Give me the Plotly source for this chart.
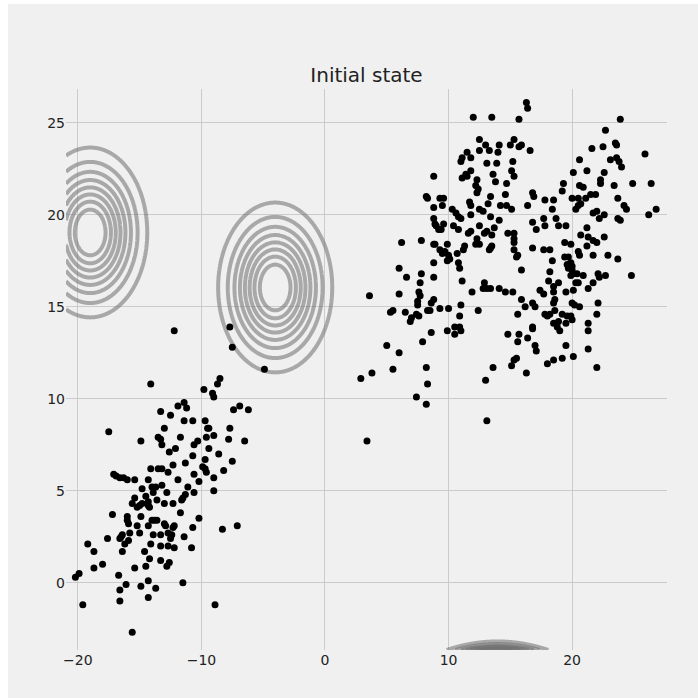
import numpy as np
import plotly.graph_objects as go

# ---------------- data ----------------
cluster_a_x = [-12.2, -7.7, -7.5, -4.9, -8.5, -8.7, -9.8, -14.1,
               -9.1, -9.0, -11.4, -11.9, -11.2, -13.3, -12.5, -7.4, -6.9, -6.2,
               -11.4, -10.7, -9.7, -9.5, -9.4, -7.7, -13.0, -17.5,
               -13.5, -13.3, -11.7, -9.6, -9.0, -7.8, -6.5, -14.9,
               -13.2, -12.1, -10.6, -10.3, -12.6, -9.4, -8.6,
               -10.7, -9.7, -7.5, -14.1, -13.5, -13.2, -12.3, -11.3, -9.9, -9.7, -9.6, -8.2, -12.7, -10.6, -9.0,
               -17.1, -16.9, -16.6, -16.3, -16.0, -15.4, -14.3, -11.9, -10.2,
               -14.8, -14.0, -13.7, -13.2, -12.8, -11.1, -11.3, -11.5, -11.6, -10.6, -9.0,
               -15.4, -15.6, -15.2, -15.0, -14.8, -14.5, -14.3, -14.3, -14.2, -13.9, -13.6, -13.0, -12.3, -11.7, -10.2,
               -17.2, -16.0, -16.0, -15.9, -14.9, -14.0, -13.8, -13.6, -13.0, -12.9, -14.3, -15.2, -12.2, -12.3, -10.7, -8.3, -7.1,
               -16.4, -16.5, -16.6, -15.8, -17.6, -15.0, -15.9, -16.2, -16.4,
               -13.9, -13.3, -12.7, -12.4, -12.5, -11.4, -14.1, -13.3, -12.7, -12.2, -14.6, -10.8,
               -19.2, -18.7, -18.0, -18.7, -15.4, -14.5, -14.2, -13.3, -12.6, -12.8,
               -20.2, -19.9, -16.7, -16.1, -16.6, -14.9, -14.3, -13.7, -11.5,
               -19.6, -16.6, -14.3, -8.9, -15.6]
cluster_a_y = [13.7, 13.9, 12.8, 11.6, 11.1, 10.8, 10.5, 10.8,
               10.3, 10.1, 9.8, 9.6, 9.5, 9.3, 9.1, 9.4, 9.6, 9.4,
               8.8, 8.8, 8.8, 8.4, 8.4, 8.4, 8.4, 8.2,
               7.9, 7.8, 7.9, 7.9, 8.0, 7.8, 7.7, 7.7,
               7.5, 7.3, 7.5, 7.7, 7.1, 7.3, 7.0,
               6.9, 6.7, 6.6, 6.2, 6.2, 6.2, 6.4, 6.5, 6.3, 6.2, 6.0, 6.1, 6.0, 5.9, 5.7,
               5.9, 5.8, 5.7, 5.7, 5.6, 5.6, 5.6, 5.6, 5.5,
               5.1, 5.2, 5.2, 5.3, 4.9, 5.2, 4.8, 4.6, 4.5, 4.9, 5.0,
               4.6, 4.3, 4.1, 4.2, 4.3, 4.7, 4.4, 4.2, 4.1, 4.9, 4.5, 4.3, 4.3, 3.8, 3.5,
               3.7, 3.6, 3.4, 3.2, 3.6, 3.4, 3.4, 3.4, 3.2, 3.1, 3.1, 3.1, 3.1, 3.0, 3.0, 2.9, 3.1,
               2.6, 2.5, 2.4, 2.7, 2.4, 2.7, 2.3, 2.1, 1.7,
               2.6, 2.6, 2.7, 2.6, 2.4, 2.5, 2.1, 2.0, 2.0, 1.9, 1.7, 1.9,
               2.1, 1.7, 1.0, 0.8, 0.8, 0.9, 1.3, 1.2, 1.1, 0.9,
               0.3, 0.5, 0.4, -0.1, -0.4, -0.2, 0.1, -0.3, 0.0,
               -1.2, -1.0, -0.8, -1.2, -2.7]

cluster_b_x = [16.3, 16.4, 12.0, 13.5, 15.7, 23.9, 22.7, 12.5,
               13.0, 13.3, 12.5, 14.0, 14.1, 15.0, 15.3, 15.9, 15.7, 16.6,
               21.6, 22.5, 23.5, 23.6, 25.9,
               11.5, 11.8, 11.0, 11.1, 13.1, 13.9, 15.2,
               20.6, 23.1, 23.6, 23.8, 24.0,
               11.8, 11.4, 11.1, 11.5, 8.8,
               12.3, 13.6, 13.8, 14.7, 15.1, 15.3,
               20.1, 21.2, 22.6, 22.3, 22.3, 23.4, 24.9, 26.4,
               12.2, 12.4, 12.3,
               14.6, 16.8, 16.9, 19.3, 19.2, 20.6, 20.9,
               8.2, 8.3, 9.3, 9.6, 8.8, 9.5,
               13.4, 13.2, 11.7, 11.8, 14.2, 14.7, 15.1, 16.4, 17.8, 18.5, 20.0, 20.5, 20.7, 20.5, 20.3, 21.1, 21.5, 21.9,
               23.7, 24.2, 24.4, 26.2, 26.8,
               12.5, 12.8, 11.8, 13.4, 14.1, 10.3, 10.6, 10.8, 11.0, 18.4, 17.7, 17.8, 16.8, 18.7, 18.9, 19.5, 17.1,
               21.7, 22.0, 22.2, 22.6, 23.7, 23.9,
               8.8, 8.9, 9.2, 9.4, 9.0, 9.6, 10.4, 10.8,
               12.5, 11.6, 11.8, 12.9, 13.1, 13.5, 13.7, 14.8, 15.3, 15.3, 15.3, 15.3,
               21.2, 20.7, 21.3, 21.7, 22.0, 22.6,
               6.2, 7.8,
               8.8, 8.9, 9.9, 9.3, 9.5, 9.7, 10.0, 9.9, 10.1, 10.7, 10.8, 10.9, 8.8,
               12.3, 12.2, 12.5, 11.3, 11.2, 13.4, 13.5, 13.3,
               16.8, 17.7, 18.2, 19.4, 19.9, 15.6, 15.5, 15.9, 18.4, 20.5, 20.6, 21.2, 21.7, 22.9, 23.7,
               19.4, 19.7, 19.6, 19.9, 20.0, 19.7, 20.1, 19.9, 20.4, 20.9, 20.0,
               22.1, 22.2, 22.7, 24.8,
               6.0, 6.6, 7.8, 8.8, 7.7,
               11.1, 12.9, 12.8, 13.1, 13.4, 14.1, 14.6, 15.2, 11.9,
               18.2, 18.1, 18.9, 18.5, 18.5, 19.5, 20.1, 20.3, 20.5, 21.3, 21.7,
               3.6, 6.0, 7.6, 7.7, 7.5, 7.5, 8.8, 8.6, 11.0, 10.0, 9.3, 8.5, 8.3, 5.3, 5.5, 6.5, 7.4, 7.6, 7.0, 6.9,
               12.4, 15.9, 16.2, 16.8, 17.0, 17.4, 17.7,
               18.6, 18.5, 18.6, 17.8, 18.0, 18.2, 19.2, 19.6, 19.9, 20.0, 19.5, 18.9, 18.5, 18.8, 19.0, 20.0, 20.2, 20.6,
               22.1, 22.0, 21.3, 21.3,
               10.9, 10.9, 11.0, 10.5, 10.5, 9.9, 8.6, 7.9,
               15.6, 14.8, 15.7, 16.4, 15.6, 16.8, 16.8, 17.0, 17.1,
               19.5, 21.3, 20.1, 19.2, 18.5, 18.0, 22.0,
               5.0, 6.0, 5.5, 3.8, 2.9, 8.2, 8.3, 7.4,
               15.5, 15.3, 15.1, 13.6, 16.3, 13.0,
               8.2, 13.1, 3.4]
cluster_b_y = [26.1, 25.8, 25.3, 25.3, 25.2, 25.2, 24.6, 24.1,
               23.8, 23.5, 23.5, 23.4, 23.8, 23.8, 24.1, 23.8, 23.7, 23.5,
               23.6, 23.7, 23.9, 23.8, 23.3,
               23.4, 23.1, 22.9, 23.1, 22.8, 22.8, 22.9,
               23.0, 23.0, 23.1, 22.9, 22.6,
               22.4, 22.2, 22.0, 22.1, 22.1,
               21.9, 22.2, 21.8, 21.7, 22.4, 22.1,
               22.3, 22.4, 22.3, 21.9, 21.7, 21.6, 21.7, 21.7,
               21.6, 21.4, 21.2,
               21.1, 21.2, 21.0, 21.7, 21.3, 21.6, 21.5,
               21.0, 20.9, 20.9, 20.9, 20.4, 20.5,
               21.0, 20.6, 20.7, 20.5, 20.5, 20.5, 20.3, 20.5, 20.8, 20.8, 20.9, 20.9, 20.6, 20.5, 20.3, 20.9, 21.1, 21.1,
               20.9, 20.5, 20.3, 20.0, 20.3,
               20.3, 20.2, 20.0, 19.9, 19.7, 20.3, 20.1, 19.9, 19.8, 20.3, 19.8, 19.4, 19.6, 19.8, 19.4, 19.4, 19.2,
               20.1, 20.2, 19.8, 20.0, 19.8, 19.7,
               19.8, 19.5, 19.2, 19.2, 19.4, 19.5, 19.4, 19.2,
               19.4, 19.0, 19.1, 19.0, 19.1, 18.9, 19.3, 19.0, 19.0, 18.7, 18.5, 18.1,
               19.3, 18.9, 18.8, 18.6, 18.5, 18.8,
               18.5, 18.6,
               18.4, 18.4, 18.4, 18.1, 17.9, 18.0, 17.8, 17.5, 17.6, 17.9, 17.4, 17.1, 17.4,
               18.7, 18.4, 18.4, 18.3, 18.1, 18.2, 18.3, 18.1,
               18.2, 18.1, 18.1, 18.5, 18.4, 17.8, 17.7, 17.0, 17.5, 18.0, 17.8, 18.3, 17.8, 17.8, 17.6,
               17.7, 17.7, 17.3, 17.4, 17.2, 17.1, 16.8, 16.7, 16.8, 16.7, 17.0,
               16.8, 16.6, 16.7, 16.7,
               17.1, 16.6, 16.8, 16.6, 16.3,
               16.4, 16.3, 16.0, 16.0, 16.0, 16.0, 15.8, 15.8, 15.8,
               16.9, 16.4, 16.3, 16.1, 15.8, 15.8, 15.9, 16.3, 16.3, 16.0, 16.3,
               15.6, 15.7, 15.8, 15.6, 15.3, 15.1, 15.4, 15.2, 15.1, 14.9, 14.9, 14.8, 14.8, 14.7, 14.8, 14.7, 14.6, 14.5, 14.4, 14.2,
               14.8, 15.4, 15.0, 15.2, 15.0, 15.9, 15.7,
               15.4, 15.2, 14.8, 14.6, 14.5, 14.6, 14.6, 14.5, 14.5, 14.3, 14.1, 14.2, 14.1, 13.9, 13.7, 15.2, 15.1, 15.0,
               15.2, 14.6, 14.1, 13.7,
               14.5, 13.9, 13.7, 13.9, 13.5, 13.7, 13.6, 13.1,
               14.6, 13.5, 13.5, 13.3, 13.1, 13.9, 13.8, 12.9, 12.6,
               12.9, 12.7, 12.3, 12.2, 12.1, 11.9, 11.7,
               12.9, 12.5, 11.6, 11.4, 11.1, 11.7, 10.8, 10.1,
               12.2, 12.1, 11.8, 11.7, 11.4, 11.0,
               9.7, 8.8, 7.7]

# Gaussian components drawn as contour rings
gauss_mean_x = [-19.0, -4.03, 13.96]
gauss_mean_y = [19.04, 16.05, -21.56]
gauss_sigma = [2.18, 2.18, 1.94]
level_fractions = [k / 9.41 for k in range(1, 9)]

x_range = [-20.96, 27.68]
y_range = [-3.66, 26.84]
x_ticks = [-20, -10, 0, 10, 20]
x_tick_text = ["\u221220", "\u221210", "0", "10", "20"]
y_ticks = [0, 5, 10, 15, 20, 25]
y_tick_text = ["0", "5", "10", "15", "20", "25"]

# grid windows for evaluating each component
grid_windows = [
    ([x_range[0], -12.0], [11.5, 26.5], 220, 260),
    ([-11.5, 3.5], [8.5, 23.5], 240, 260),
    ([7.5, 20.5], [y_range[0], -2.3], 400, 160),
]

fig = go.Figure()

for mx, my, s, (wx, wy, nx, ny) in zip(gauss_mean_x, gauss_mean_y, gauss_sigma, grid_windows):
    gx = np.linspace(wx[0], wx[1], nx)
    gy = np.linspace(wy[0], wy[1], ny)
    XX, YY = np.meshgrid(gx, gy)
    d2 = (XX - mx) ** 2 + (YY - my) ** 2
    z = np.exp(-(d2 - d2.min()) / (2 * s * s))
    fig.add_trace(go.Contour(
        x=gx, y=gy, z=z,
        autocontour=False,
        contours=dict(start=level_fractions[0], end=level_fractions[-1],
                      size=level_fractions[1] - level_fractions[0], coloring="none"),
        line=dict(color="rgba(112,112,112,0.56)", width=4, smoothing=1),
        showscale=False, hoverinfo="skip", showlegend=False,
    ))

pts_x = cluster_a_x + cluster_b_x
pts_y = cluster_a_y + cluster_b_y
fig.add_trace(go.Scatter(
    x=pts_x, y=pts_y, mode="markers",
    marker=dict(color="black", size=7, line=dict(width=0)),
    showlegend=False, hoverinfo="skip",
))

font_family = "DejaVu Sans"
fig.update_layout(
    width=698, height=698,
    margin=dict(l=66, r=31, t=89, b=48),
    paper_bgcolor="white",
    plot_bgcolor="#f0f0f0",
    showlegend=False,
    title=dict(text="Initial state", x=0.5, xref="paper", xanchor="center",
               y=1 - 74.7 / 698, yref="container", yanchor="middle",
               font=dict(family=font_family, size=20, color="#222222")),
    shapes=[dict(type="rect", xref="paper", yref="paper",
                 x0=(8 - 66) / 601, x1=(698 - 66) / 601 + 0.01,
                 y0=-(698 - 650) / 561 - 0.01, y1=(650 - 4) / 561,
                 fillcolor="#f0f0f0", line=dict(width=0), layer="below")],
    xaxis=dict(range=x_range, tickvals=x_ticks, ticktext=x_tick_text,
               showgrid=True, gridcolor="#cbcbcb", gridwidth=1, zeroline=False,
               showline=False, ticks="", tickfont=dict(family=font_family, size=14, color="#222222")),
    yaxis=dict(range=y_range, tickvals=y_ticks, ticktext=y_tick_text,
               showgrid=True, gridcolor="#cbcbcb", gridwidth=1, zeroline=False,
               showline=False, ticks="", tickfont=dict(family=font_family, size=14, color="#222222")),
)

fig.write_html("out.html")
